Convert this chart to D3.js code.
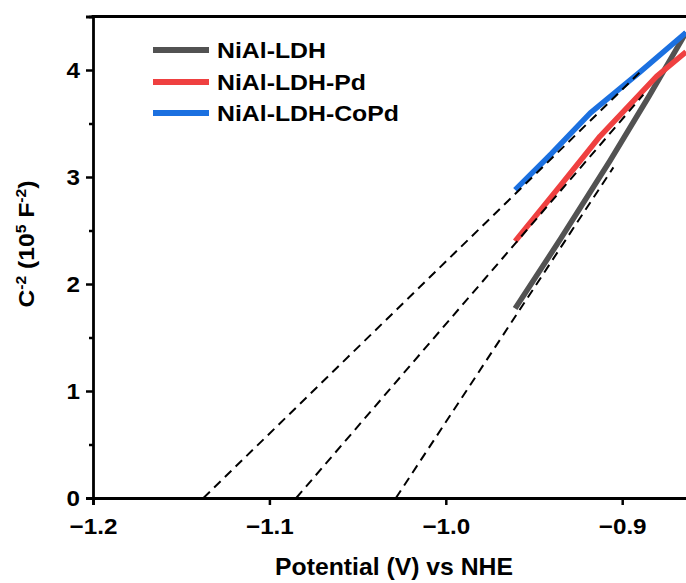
<!DOCTYPE html>
<html>
<head>
<meta charset="utf-8">
<script src="https://cdn.jsdelivr.net/npm/d3@7"></script>
<style>
  html, body { margin: 0; padding: 0; background: #fff; }
  svg { display: block; }
  text { font-family: "Liberation Sans", Arial, sans-serif; font-weight: bold; fill: #000; }
</style>
</head>
<body>
<svg id="chart" width="686" height="583"></svg>
<script>
// ---- data ----
const seriesNames = ["NiAl-LDH", "NiAl-LDH-Pd", "NiAl-LDH-CoPd"];
const seriesColors = ["#525252", "#ef4040", "#1b70e0"];

const ldhX = [-0.9607, -0.935, -0.907, -0.885, -0.8638];
const ldhY = [1.77, 2.42, 3.15, 3.75, 4.35];

const pdX = [-0.9607, -0.935, -0.9126, -0.8805, -0.8638];
const pdY = [2.40, 2.92, 3.38, 3.94, 4.17];

const copdX = [-0.9607, -0.940, -0.918, -0.890, -0.8638];
const copdY = [2.88, 3.22, 3.60, 3.98, 4.35];

// linear-fit extrapolation lines (x-intercept to end point)
const fitX0 = [-1.0283, -1.0848, -1.1374];
const fitX1 = [-0.905, -0.888, -0.888];
const fitY1 = [3.09, 3.77, 4.01];

const xTicks = [-1.2, -1.1, -1.0, -0.9];
const yTicks = [0, 1, 2, 3, 4];
const yMinorTicks = [0.5, 1.5, 2.5, 3.5, 4.5];

// ---- layout ----
const svg = d3.select("#chart");
const W = 686, H = 583;
const mLeft = 93, mTop = 16, mBottom = 498;

const x = d3.scaleLinear().domain([-1.2, -0.85]).range([mLeft, mLeft + 0.35 * 1764]);
const y = d3.scaleLinear().domain([0, 4.5]).range([mBottom, mTop + 0.5]);

// widen glyphs horizontally (reference text is slightly stretched)
function stretch(sel, k) {
  sel.each(function () {
    const n = this.getComputedTextLength();
    d3.select(this).attr("textLength", n * k).attr("lengthAdjust", "spacingAndGlyphs");
  });
}

svg.append("defs").append("clipPath").attr("id", "clip")
  .append("rect").attr("x", mLeft).attr("y", mTop - 5).attr("width", W - mLeft).attr("height", mBottom - mTop + 5);

const plot = svg.append("g").attr("clip-path", "url(#clip)");

const line = d3.line().x(d => x(d[0])).y(d => y(d[1]));

const series = [
  d3.zip(ldhX, ldhY),
  d3.zip(pdX, pdY),
  d3.zip(copdX, copdY)
];

series.forEach((s, i) => {
  plot.append("path").datum(s)
    .attr("d", line)
    .attr("fill", "none")
    .attr("stroke", seriesColors[i])
    .attr("stroke-width", 5.5)
    .attr("stroke-linecap", "butt")
    .attr("stroke-linejoin", "round");
});

fitX0.forEach((x0, i) => {
  plot.append("path").datum([[x0, 0], [fitX1[i], fitY1[i]]])
    .attr("d", line)
    .attr("fill", "none")
    .attr("stroke", "#000")
    .attr("stroke-width", 2)
    .attr("stroke-dasharray", "9,6");
});

// ---- axes ----
const xAxis = svg.append("g").attr("transform", `translate(0,${mBottom})`)
  .call(d3.axisBottom(x).tickValues(xTicks).tickFormat(d3.format(".1f")).tickSizeOuter(0).tickSize(7));
const yAxis = svg.append("g").attr("transform", `translate(${mLeft},0)`)
  .call(d3.axisLeft(y).tickValues(yTicks).tickFormat(d3.format("d")).tickSizeOuter(0).tickSize(7));
svg.append("g").attr("transform", `translate(${mLeft},0)`)
  .call(d3.axisLeft(y).tickValues(yMinorTicks).tickFormat("").tickSizeOuter(0).tickSize(4))
  .call(g => g.select(".domain").remove())
  .selectAll("line").attr("stroke-width", 2.5);

[xAxis, yAxis].forEach(g => {
  g.select(".domain").attr("stroke-width", 2.8).attr("stroke", "#000");
  g.selectAll(".tick line").attr("stroke-width", 2.5).attr("stroke", "#000");
  g.selectAll(".tick text").style("font-size", "22px").style("font-family", "Liberation Sans, Arial, sans-serif").style("font-weight", "bold").attr("fill", "#000");
});
xAxis.selectAll(".tick text").attr("y", 36).attr("dy", 0);
yAxis.selectAll(".tick text").attr("x", -13).attr("dy", "0.36em");
stretch(xAxis.selectAll(".tick text"), 1.1);
stretch(yAxis.selectAll(".tick text"), 1.1);

// top spine
svg.append("line")
  .attr("x1", mLeft - 1.4).attr("x2", W)
  .attr("y1", y(4.5)).attr("y2", y(4.5))
  .attr("stroke", "#000").attr("stroke-width", 2.8);

// ---- axis titles ----
svg.append("text")
  .attr("x", 394).attr("y", 575)
  .attr("text-anchor", "middle")
  .style("font-size", "24px")
  .attr("textLength", 238).attr("lengthAdjust", "spacingAndGlyphs")
  .text("Potential (V) vs NHE");

const yt = svg.append("text")
  .attr("transform", "translate(34,244) rotate(-90)")
  .attr("text-anchor", "middle")
  .style("font-size", "22px");
yt.append("tspan").text("C");
yt.append("tspan").attr("dy", -8).style("font-size", "14px").text("-2");
yt.append("tspan").attr("dy", 8).text(" (10");
yt.append("tspan").attr("dy", -8).style("font-size", "14px").text("5");
yt.append("tspan").attr("dy", 8).text(" F");
yt.append("tspan").attr("dy", -8).style("font-size", "14px").text("-2");
yt.append("tspan").attr("dy", 8).text(")");
stretch(yt, 1.12);

// ---- legend ----
const legY = [50, 82, 113];
seriesNames.forEach((name, i) => {
  svg.append("line")
    .attr("x1", 153).attr("x2", 209)
    .attr("y1", legY[i]).attr("y2", legY[i])
    .attr("stroke", seriesColors[i]).attr("stroke-width", 6);
  const t = svg.append("text")
    .attr("x", 217).attr("y", legY[i]).attr("dy", "0.36em")
    .style("font-size", "22px")
    .text(name);
  stretch(t, 1.128);
});
</script>
</body>
</html>
